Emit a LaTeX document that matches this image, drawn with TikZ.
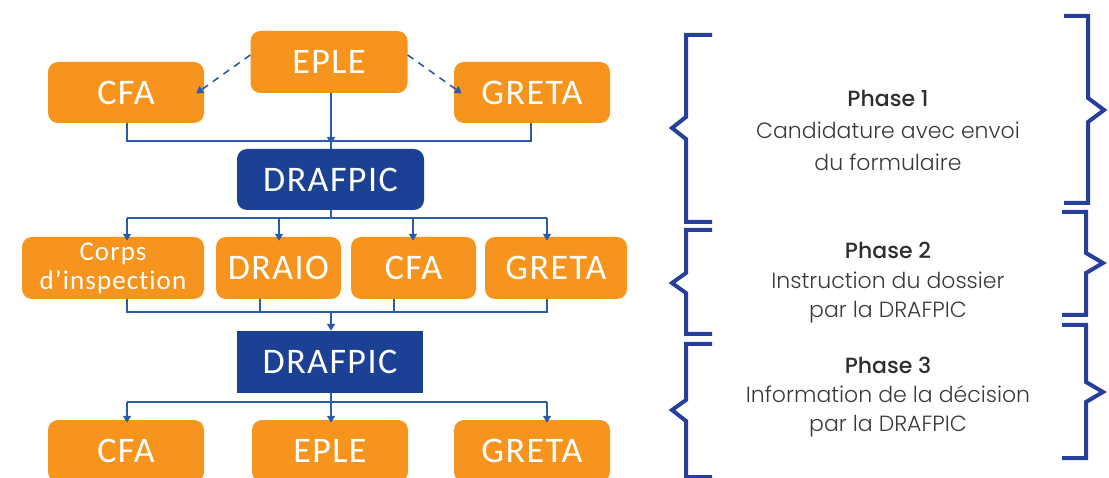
\documentclass[tikz,border=0pt]{standalone}
\usepackage{fontspec}
\setmainfont{Carlito}
\newfontfamily\boxfont[LetterSpace=4,Ligatures=NoCommon]{Carlito}
\newfontfamily\phasefont[UprightFont={* Light},BoldFont={* Medium}]{Poppins}
\usetikzlibrary{arrows.meta}
\definecolor{orng}{HTML}{F7941D}
\definecolor{dblue}{HTML}{1B4194}
\definecolor{lblue}{HTML}{2A5CAA}
\definecolor{brk}{HTML}{263F9C}
\definecolor{txtd}{HTML}{2E2E2E}
\definecolor{txtl}{HTML}{3A3A3A}
\tikzset{
  obox/.style={fill=orng, rounded corners=10pt, text=white, inner sep=0pt,
    font=\boxfont\fontsize{36}{36}\selectfont},
  bbox/.style={fill=dblue, text=white, inner sep=0pt, minimum width=186pt, minimum height=62pt,
    font=\boxfont\fontsize{36}{36}\selectfont},
  conn/.style={draw=lblue, line width=1.6pt},
  arr/.style={conn, -{Triangle[width=8pt,length=7pt]}},
  brace/.style={draw=brk, line width=4pt, line join=miter},
  phase/.style={align=center, text=txtl, inner sep=0pt}
}
\begin{document}
\begin{tikzpicture}[x=1pt,y=-1pt]
\useasboundingbox (0,0) rectangle (1109,478);
% row 1
\node[obox, minimum width=157pt, minimum height=62pt] (eple1) at (329,62) {EPLE};
\node[obox, minimum width=156pt, minimum height=61pt] (cfa1) at (126,92.5) {CFA};
\node[obox, minimum width=156pt, minimum height=61pt] (greta1) at (532,92.5) {GRETA};
\node[bbox, rounded corners=10pt, minimum width=187pt, minimum height=61pt] (drafpic1) at (330.5,179.5) {DRAFPIC};
% row 2
\node[obox, minimum width=182pt, minimum height=62pt, align=center,
  font=\boxfont\fontsize{27}{29}\selectfont] (corps) at (113,268) {Corps\\d’inspection};
\node[obox, minimum width=125pt, minimum height=62pt] (draio) at (278.5,268) {DRAIO};
\node[obox, minimum width=125pt, minimum height=62pt] (cfa2) at (413.5,268) {CFA};
\node[obox, minimum width=142pt, minimum height=62pt] (greta2) at (556,268) {GRETA};
\node[bbox] (drafpic2) at (330,362) {DRAFPIC};
% row 3
\node[obox, minimum width=156pt, minimum height=62pt] (cfa3) at (126,451) {CFA};
\node[obox, minimum width=156pt, minimum height=62pt] (eple3) at (330,451) {EPLE};
\node[obox, minimum width=156pt, minimum height=62pt] (greta3) at (532,451) {GRETA};

% bars
\coordinate (bar1) at (331,141);
\coordinate (bar2) at (331,218);
\coordinate (bar3) at (331,312);
\coordinate (bar4) at (331,402);

% connectors row 1
\draw[conn, dashed, dash pattern=on 7pt off 6pt, -{Triangle[width=8pt,length=7pt]}]
  ([yshift=7pt]eple1.west) -- ([xshift=-8pt,yshift=-1pt]cfa1.east);
\draw[conn, dashed, dash pattern=on 7pt off 6pt, -{Triangle[width=8pt,length=7pt]}]
  ([yshift=7pt]eple1.east) -- ([xshift=8pt,yshift=-1pt]greta1.west);
\draw[conn] ([xshift=1pt]cfa1.south) |- (bar1) -| ([xshift=-1pt]greta1.south);
\draw[arr] ([xshift=2pt]eple1.south) -- ([yshift=-3pt]bar1);
\draw[conn] (bar1) -- (bar1 |- drafpic1.north);
% connectors row 2
\draw[conn] (bar1 |- drafpic1.south) -- (bar2);
\draw[conn] (bar2) -- (127,218) (bar2) -- (547,218);
\draw[arr] (127,218) -- ([yshift=-4pt]corps.north -| 127,0);
\draw[arr] (279,218) -- ([yshift=-4pt]draio.north -| 279,0);
\draw[arr] (413,218) -- ([yshift=-4pt]cfa2.north -| 413,0);
\draw[arr] (547,218) -- ([yshift=-4pt]greta2.north -| 547,0);
% connectors row 2 -> drafpic2
\draw[conn] (corps.south -| 127,0) |- (bar3) -| (greta2.south -| 547,0);
\draw[conn] (draio.south -| 260,0) -- (260,312);
\draw[conn] (cfa2.south -| 394,0) -- (394,312);
\draw[arr] (bar3) -- (bar3 |- drafpic2.north);
% connectors row 3
\draw[conn] (bar3 |- drafpic2.south) -- (bar4);
\draw[conn] (127,402) -- (547,402);
\draw[arr] (127,402) -- ([yshift=-3pt]cfa3.north -| 127,0);
\draw[arr] (bar4) -- ([yshift=-3pt]eple3.north -| bar4);
\draw[arr] (547,402) -- ([yshift=-3pt]greta3.north -| 547,0);

% braces left
\draw[brace] (712,35) -- (686,35) -- (686,117) -- (672,128) -- (686,139) -- (686,222) -- (712,222);
\draw[brace] (712,230) -- (686,230) -- (686,273) -- (672,283) -- (686,293) -- (686,334) -- (712,334);
\draw[brace] (712,344) -- (686,344) -- (686,400) -- (672,410) -- (686,421) -- (686,477) -- (712,477);
% braces right
\draw[brace] (1064,16) -- (1088,16) -- (1088,98) -- (1104,110) -- (1088,122) -- (1088,203) -- (1064,203);
\draw[brace] (1062,212) -- (1086,212) -- (1086,253) -- (1103,263) -- (1086,273) -- (1086,315) -- (1062,315);
\draw[brace] (1062,325) -- (1086,325) -- (1086,382) -- (1103,392) -- (1086,402) -- (1086,458) -- (1062,458);

% phase texts
\node[phase, font=\phasefont\fontsize{22}{32}\selectfont] (ph1) at (888,130)
  {\textcolor{txtd}{\bfseries Phase 1}\\Candidature avec envoi\\du formulaire};
\node[phase, font=\phasefont\fontsize{22}{29.5}\selectfont] (ph2) at (888,283)
  {\textcolor{txtd}{\bfseries Phase 2}\\Instruction du dossier\\par la DRAFPIC};
\node[phase, font=\phasefont\fontsize{22}{29}\selectfont] (ph3) at (888,397)
  {\textcolor{txtd}{\bfseries Phase 3}\\Information de la décision\\par la DRAFPIC};
\end{tikzpicture}
\end{document}
